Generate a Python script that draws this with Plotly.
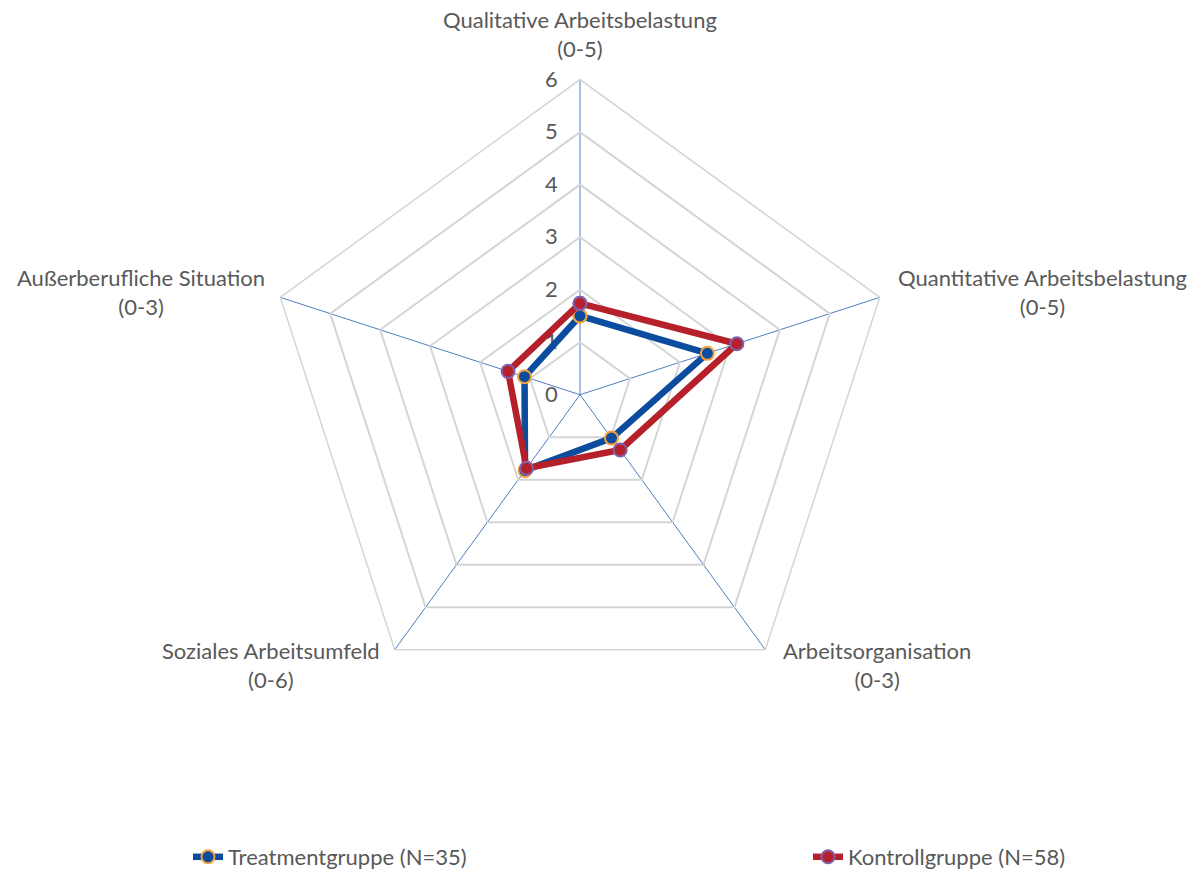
import math
import plotly.graph_objects as go

categories = [
    "Qualitative Arbeitsbelastung<br>(0-5)",
    "Quantitative Arbeitsbelastung<br>(0-5)",
    "Arbeitsorganisation<br>(0-3)",
    "Soziales Arbeitsumfeld<br>(0-6)",
    "Außerberufliche Situation<br>(0-3)",
]
treatment = [1.50, 2.55, 1.02, 1.78, 1.11]
kontroll = [1.74, 3.14, 1.30, 1.73, 1.44]
series_names = ["Treatmentgruppe (N=35)", "Kontrollgruppe (N=58)"]
radial_ticks = [0, 1, 2, 3, 4, 5, 6]

FONT = "Lato"
GREY = "#595959"
FS = 22

W, H = 1196, 878
cx, cy, R = 580, 397, 317


def px(x):
    return x / W


def py(y):
    return (H - y) / H


fig = go.Figure()
fig.add_trace(go.Scatterpolar(
    r=treatment + [treatment[0]], theta=categories + [categories[0]],
    mode="lines+markers", name=series_names[0],
    line=dict(color="#0B4C9F", width=6.5),
    marker=dict(size=13, color="#0B4C9F", line=dict(color="#F5A03A", width=2)),
    legend="legend",
))
fig.add_trace(go.Scatterpolar(
    r=kontroll + [kontroll[0]], theta=categories + [categories[0]],
    mode="lines+markers", name=series_names[1],
    line=dict(color="#B5202A", width=6.5),
    marker=dict(size=13, color="#B5202A", line=dict(color="#7F62AC", width=2)),
    legend="legend2",
))

# category labels as annotations (centered multi-line text) placed outside the vertices
gap = 16
annotations = []
n = len(categories)
for i, cat in enumerate(categories):
    ang = math.radians(90 - i * 360 / n)
    vx = cx + R * math.cos(ang)
    vy = cy - R * math.sin(ang)
    c = math.cos(ang)
    if abs(c) < 0.1:
        xa, ya, x, y = "center", "bottom", vx, vy - gap
    elif c > 0:
        xa, ya, x, y = "left", "middle", vx + 15, vy + (-5 if math.sin(ang) > 0 else 15)
    else:
        xa, ya, x, y = "right", "middle", vx - 12, vy + (-5 if math.sin(ang) > 0 else 15)
    annotations.append(dict(
        text=cat, x=px(x), y=py(y), xref="paper", yref="paper",
        xanchor=xa, yanchor=ya, align="center", showarrow=False,
        font=dict(family=FONT, size=FS, color=GREY),
    ))

fig.update_layout(
    width=W, height=H,
    margin=dict(l=0, r=0, t=0, b=0),
    paper_bgcolor="white",
    showlegend=True,
    font=dict(family=FONT, size=FS, color=GREY),
    annotations=annotations,
    polar=dict(
        domain=dict(x=[px(cx - R), px(cx + R)], y=[py(cy + R), py(cy - R)]),
        bgcolor="white",
        gridshape="linear",
        radialaxis=dict(
            range=[0, 6], tickvals=radial_ticks, angle=90, tickangle=90,
            side="counterclockwise", showline=False,
            ticks="outside", ticklen=14, tickcolor="rgba(0,0,0,0)",
            gridcolor="#D5D5D5", gridwidth=1.5, layer="below traces",
            tickfont=dict(family=FONT, size=FS, color=GREY),
        ),
        angularaxis=dict(
            rotation=90, direction="clockwise",
            gridcolor="#4F7FC0", gridwidth=1.3,
            showline=True, linecolor="#D5D5D5", linewidth=1.5,
            showticklabels=False, ticks="",
            layer="below traces",
        ),
    ),
    legend=dict(x=px(188), y=py(862), xanchor="left", yanchor="middle",
                bgcolor="rgba(0,0,0,0)", font=dict(family=FONT, size=FS, color=GREY)),
    legend2=dict(x=px(808), y=py(862), xanchor="left", yanchor="middle",
                 bgcolor="rgba(0,0,0,0)", font=dict(family=FONT, size=FS, color=GREY)),
)

fig.write_html("out.html",
               config={"displayModeBar": False},
               post_script="document.body.style.margin='0';document.body.style.overflow='hidden';")
